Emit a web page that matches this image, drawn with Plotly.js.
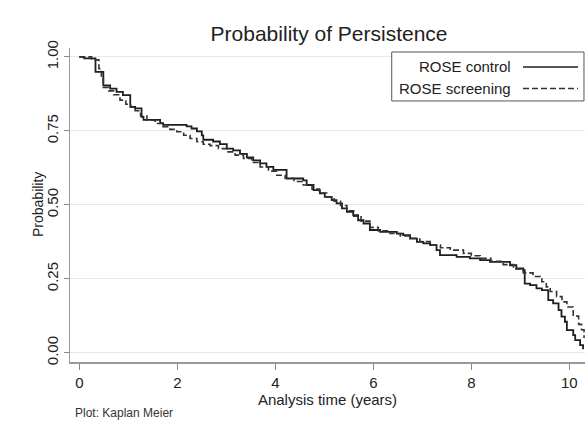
<!DOCTYPE html>
<html>
<head>
<meta charset="utf-8">
<script src="https://cdn.plot.ly/plotly-3.0.1.min.js"></script>
<style>html,body{margin:0;padding:0;background:#fff;}#chart{width:585px;height:426px;}</style>
</head>
<body>
<div id="chart"></div>
<script>
// Series names
var seriesNames = ["ROSE control", "ROSE screening"];

// ROSE control (solid) – Kaplan-Meier step estimates
var controlTime = [0, 0.10, 0.33, 0.49, 0.63, 0.76, 0.89, 1.04, 1.14, 1.27, 1.31, 1.65, 1.71, 2.19, 2.29, 2.40, 2.50, 2.53, 2.73, 2.87, 3.01, 3.14, 3.28, 3.42, 3.55, 3.69, 3.82, 3.96, 4.23, 4.57, 4.64, 4.78, 4.91, 5.01, 5.15, 5.25, 5.36, 5.46, 5.59, 5.69, 5.80, 5.93, 6.14, 6.48, 6.61, 6.75, 6.89, 7.02, 7.16, 7.29, 7.36, 7.70, 7.97, 8.18, 8.38, 8.79, 8.92, 9.06, 9.09, 9.20, 9.33, 9.44, 9.57, 9.67, 9.78, 9.84, 9.91, 9.95, 10.08, 10.12, 10.22, 10.28];
var controlSurv = [1.000, 0.995, 0.949, 0.904, 0.893, 0.882, 0.871, 0.831, 0.826, 0.797, 0.787, 0.776, 0.770, 0.765, 0.758, 0.748, 0.735, 0.720, 0.714, 0.705, 0.690, 0.684, 0.672, 0.660, 0.650, 0.640, 0.628, 0.618, 0.589, 0.583, 0.567, 0.550, 0.539, 0.527, 0.516, 0.505, 0.488, 0.476, 0.465, 0.448, 0.437, 0.415, 0.409, 0.403, 0.398, 0.386, 0.375, 0.370, 0.364, 0.347, 0.330, 0.324, 0.319, 0.313, 0.307, 0.296, 0.285, 0.279, 0.234, 0.229, 0.218, 0.212, 0.178, 0.167, 0.144, 0.122, 0.105, 0.077, 0.060, 0.043, 0.026, 0.012];

// ROSE screening (dashed)
var screenTime = [0, 0.25, 0.40, 0.45, 0.49, 0.60, 0.70, 0.83, 0.95, 1.05, 1.14, 1.25, 1.38, 1.55, 1.71, 1.85, 1.99, 2.13, 2.26, 2.40, 2.53, 2.67, 2.84, 3.01, 3.18, 3.35, 3.52, 3.69, 3.86, 4.03, 4.20, 4.38, 4.57, 4.75, 4.90, 5.05, 5.20, 5.33, 5.46, 5.60, 5.75, 5.93, 6.10, 6.34, 6.55, 6.75, 6.95, 7.16, 7.37, 7.57, 7.84, 8.00, 8.18, 8.40, 8.65, 8.86, 9.06, 9.26, 9.44, 9.53, 9.61, 9.74, 9.85, 9.95, 10.08, 10.19, 10.25, 10.30];
var screenSurv = [1.000, 0.990, 0.960, 0.930, 0.897, 0.885, 0.872, 0.854, 0.840, 0.830, 0.818, 0.800, 0.786, 0.775, 0.764, 0.755, 0.747, 0.735, 0.724, 0.713, 0.705, 0.700, 0.690, 0.679, 0.668, 0.657, 0.643, 0.628, 0.614, 0.600, 0.590, 0.579, 0.567, 0.553, 0.540, 0.527, 0.512, 0.498, 0.480, 0.462, 0.445, 0.424, 0.412, 0.403, 0.395, 0.387, 0.376, 0.364, 0.355, 0.347, 0.336, 0.328, 0.319, 0.309, 0.298, 0.283, 0.270, 0.258, 0.240, 0.223, 0.207, 0.190, 0.172, 0.155, 0.124, 0.096, 0.078, 0.050];

// Tick labels
var yTickVals = [0, 0.25, 0.5, 0.75, 1];
var yTickText = ["0.00", "0.25", "0.50", "0.75", "1.00"];
var xTickVals = [0, 2, 4, 6, 8, 10];

var FONT = "Liberation Sans, Arial, sans-serif";

var traces = [
  {x: controlTime, y: controlSurv, name: seriesNames[0], type: "scatter", mode: "lines",
   line: {shape: "hv", color: "#1e1e1e", width: 1.8}},
  {x: screenTime, y: screenSurv, name: seriesNames[1], type: "scatter", mode: "lines",
   line: {shape: "hv", color: "#333333", width: 1.6, dash: "6px,3px"}}
];

var layout = {
  width: 585, height: 426,
  margin: {l: 70, r: 0, t: 48, b: 64},
  paper_bgcolor: "#ffffff", plot_bgcolor: "#ffffff",
  showlegend: false,
  font: {family: FONT, color: "#222"},
  title: {text: "Probability of Persistence", font: {size: 21, color: "#222", family: FONT},
          x: 0.5625, xanchor: "center", y: 0.922, yanchor: "middle"},
  xaxis: {range: [-0.19, 10.32], tickvals: xTickVals, ticks: "outside", ticklen: 6, tickwidth: 1,
          tickcolor: "#888", showline: true, linecolor: "#999", linewidth: 1.5, showgrid: false,
          zeroline: false, tickfont: {size: 15, color: "#222"},
          title: {text: "Analysis time (years)", font: {size: 15, color: "#222"}, standoff: 0}},
  yaxis: {range: [-0.031, 1.030], tickvals: yTickVals, ticktext: yTickText, ticks: "outside",
          ticklen: 5, tickwidth: 1, tickcolor: "#888", showline: true, linecolor: "#999", linewidth: 1.5,
          showgrid: true, gridcolor: "#e8e8e8", gridwidth: 1, zeroline: false, tickangle: -90,
          tickfont: {size: 15, color: "#222"}},
  shapes: [
    {type: "rect", xref: "paper", yref: "paper", x0: 0.6247, x1: 0.998, y0: 0.8314, y1: 0.9873,
     line: {color: "#555", width: 1}, fillcolor: "#ffffff", layer: "above"},
    {type: "line", xref: "paper", yref: "paper", x0: 0.8796, x1: 0.9864, y0: 0.9396, y1: 0.9396,
     line: {color: "#1e1e1e", width: 1.5}},
    {type: "line", xref: "paper", yref: "paper", x0: 0.8796, x1: 0.9864, y0: 0.8708, y1: 0.8708,
     line: {color: "#333333", width: 1.5, dash: "6px,3px"}}
  ],
  annotations: [
    {text: "Probability", xref: "paper", yref: "paper", x: -0.0621, y: 0.5, xanchor: "center",
     yanchor: "middle", textangle: -90, showarrow: false, font: {size: 14, color: "#222"}},
    {text: seriesNames[0], xref: "paper", yref: "paper", x: 0.860, y: 0.9396, xanchor: "right",
     yanchor: "middle", showarrow: false, font: {size: 15, color: "#222"}},
    {text: seriesNames[1], xref: "paper", yref: "paper", x: 0.860, y: 0.8708, xanchor: "right",
     yanchor: "middle", showarrow: false, font: {size: 15, color: "#222"}},
    {text: "Plot: Kaplan Meier", xref: "paper", yref: "paper", x: 0.005, y: -0.162, xanchor: "left",
     yanchor: "middle", showarrow: false, font: {size: 12, color: "#333"}}
  ]
};

Plotly.newPlot("chart", traces, layout, {staticPlot: true, displayModeBar: false});
</script>
</body>
</html>
